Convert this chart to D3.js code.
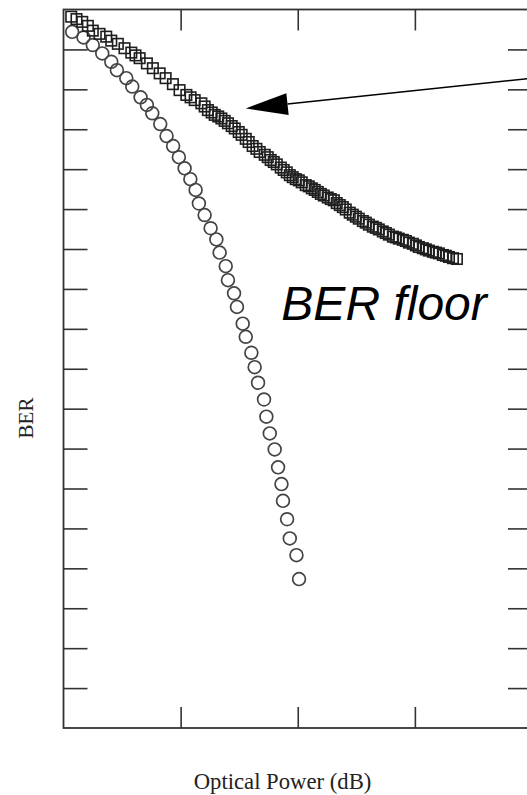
<!DOCTYPE html>
<html>
<head>
<meta charset="utf-8">
<script src="https://cdn.jsdelivr.net/npm/d3@7"></script>
<style>
  html, body { margin: 0; padding: 0; background: #fff; }
  svg { display: block; }
</style>
</head>
<body>
<svg id="chart" width="527" height="795"></svg>
<script>
// Optical power offset (dB) and log10(BER) for the two measured curves
const circleX = [0.074, 0.171, 0.250, 0.331, 0.408, 0.456, 0.536, 0.587, 0.658, 0.712,
  0.758, 0.826, 0.880, 0.936, 0.985, 1.034, 1.083, 1.128, 1.156, 1.205,
  1.256, 1.305, 1.333, 1.385, 1.404, 1.456, 1.481, 1.530, 1.556, 1.604,
  1.632, 1.661, 1.712, 1.732, 1.761, 1.803, 1.832, 1.861, 1.874, 1.909,
  1.932, 1.989, 2.011];
const circleY = [-1.56, -1.70, -1.89, -2.10, -2.31, -2.52, -2.72, -2.93, -3.20, -3.39,
  -3.60, -3.87, -4.17, -4.42, -4.70, -4.98, -5.25, -5.52, -5.86, -6.15,
  -6.48, -6.76, -7.09, -7.43, -7.78, -8.11, -8.45, -8.87, -9.20, -9.60,
  -9.96, -10.35, -10.77, -11.20, -11.62, -12.02, -12.47, -12.89, -13.31, -13.77,
  -14.25, -14.67, -15.27];

const squareX = [0.066, 0.111, 0.160, 0.208, 0.250, 0.308, 0.365, 0.408, 0.464, 0.521,
  0.579, 0.615, 0.650, 0.712, 0.763, 0.821, 0.872, 0.934, 0.991, 1.049,
  1.085, 1.120, 1.177, 1.205, 1.233, 1.265, 1.291, 1.321, 1.348, 1.376,
  1.404, 1.436, 1.462, 1.496, 1.521, 1.556, 1.581, 1.615, 1.647, 1.675,
  1.718, 1.744, 1.769, 1.795, 1.821, 1.855, 1.880, 1.906, 1.932, 1.957,
  1.983, 2.009, 2.034, 2.068, 2.094, 2.120, 2.145, 2.171, 2.197, 2.222,
  2.256, 2.282, 2.308, 2.333, 2.359, 2.385, 2.410, 2.444, 2.470, 2.496,
  2.521, 2.556, 2.581, 2.607, 2.641, 2.667, 2.692, 2.726, 2.752, 2.778,
  2.812, 2.838, 2.863, 2.897, 2.923, 2.949, 2.983, 3.009, 3.034, 3.068,
  3.094, 3.120, 3.154, 3.179, 3.205, 3.239, 3.265, 3.291, 3.325, 3.359];
const squareY = [-1.18, -1.24, -1.31, -1.41, -1.53, -1.61, -1.68, -1.78, -1.86, -1.97,
  -2.08, -2.15, -2.22, -2.35, -2.47, -2.60, -2.72, -2.87, -3.02, -3.14,
  -3.20, -3.27, -3.35, -3.43, -3.52, -3.58, -3.64, -3.68, -3.73, -3.79,
  -3.85, -3.92, -3.98, -4.07, -4.14, -4.24, -4.32, -4.42, -4.49, -4.57,
  -4.64, -4.70, -4.77, -4.82, -4.88, -4.96, -5.02, -5.08, -5.15, -5.20,
  -5.25, -5.28, -5.33, -5.40, -5.43, -5.48, -5.52, -5.57, -5.62, -5.66,
  -5.71, -5.75, -5.78, -5.85, -5.90, -5.95, -6.01, -6.09, -6.14, -6.19,
  -6.24, -6.30, -6.34, -6.39, -6.44, -6.47, -6.51, -6.56, -6.60, -6.64,
  -6.69, -6.71, -6.74, -6.77, -6.80, -6.84, -6.87, -6.91, -6.95, -6.98,
  -7.01, -7.04, -7.07, -7.09, -7.11, -7.15, -7.17, -7.20, -7.23, -7.25];

// Unlabelled tick positions
const xTicks = [1, 2, 3];
const yTicks = [-2, -3, -4, -5, -6, -7, -8, -9, -10, -11, -12, -13, -14, -15, -16, -17, -18];

// Annotation: arrow pointing at the floor curve, and its label
const arrowFrom = [4.07, -2.70];
const arrowTo = [1.556, -3.48];
const floorLabel = "BER floor";
const floorLabelPos = [1.86, -8.78];

const svg = d3.select("#chart");
const plotLeft = 63.5, plotRight = 532, plotTop = 9.5, plotBottom = 728;

const x = d3.scaleLinear().domain([0, 4]).range([plotLeft, plotRight]);
const y = d3.scaleLinear().domain([-1, -19]).range([plotTop, plotBottom]);

const ink = "#333";

// Series: circles (lower curve) and squares (floor curve)
svg.append("g")
  .selectAll("circle")
  .data(d3.zip(circleX, circleY))
  .join("circle")
  .attr("cx", d => x(d[0]))
  .attr("cy", d => y(d[1]))
  .attr("r", 6.4)
  .attr("fill", "none")
  .attr("stroke", "#444")
  .attr("stroke-width", 1.7);

const sq = 10.5;
svg.append("g")
  .selectAll("rect")
  .data(d3.zip(squareX, squareY))
  .join("rect")
  .attr("x", d => x(d[0]) - sq / 2)
  .attr("y", d => y(d[1]) - sq / 2)
  .attr("width", sq)
  .attr("height", sq)
  .attr("fill", "none")
  .attr("stroke", "#1e1e1e")
  .attr("stroke-width", 1.6);

// Frame
svg.append("rect")
  .attr("x", plotLeft).attr("y", plotTop)
  .attr("width", plotRight - plotLeft).attr("height", plotBottom - plotTop)
  .attr("fill", "none").attr("stroke", ink).attr("stroke-width", 1.8);

// Inward ticks on all four sides, no labels
function styleAxis(g) {
  g.select(".domain").remove();
  g.selectAll(".tick line").attr("stroke", ink).attr("stroke-width", 1.6);
  g.selectAll(".tick text").remove();
}
svg.append("g").attr("transform", `translate(0,${plotBottom})`)
  .call(d3.axisBottom(x).tickValues(xTicks).tickSizeInner(-21).tickSizeOuter(0)).call(styleAxis);
svg.append("g").attr("transform", `translate(0,${plotTop})`)
  .call(d3.axisTop(x).tickValues(xTicks).tickSizeInner(-21).tickSizeOuter(0)).call(styleAxis);
svg.append("g").attr("transform", `translate(${plotLeft},0)`)
  .call(d3.axisLeft(y).tickValues(yTicks).tickSizeInner(-24).tickSizeOuter(0)).call(styleAxis);
svg.append("g").attr("transform", `translate(${plotRight},0)`)
  .call(d3.axisRight(y).tickValues(yTicks).tickSizeInner(-24).tickSizeOuter(0)).call(styleAxis);

// Arrow annotation
const ax0 = x(arrowFrom[0]), ay0 = y(arrowFrom[1]);
const ax1 = x(arrowTo[0]), ay1 = y(arrowTo[1]);
const ang = Math.atan2(ay1 - ay0, ax1 - ax0);
const headLen = 42, headHalf = 11;
const bx = ax1 - headLen * Math.cos(ang), by = ay1 - headLen * Math.sin(ang);
svg.append("line")
  .attr("x1", ax0).attr("y1", ay0).attr("x2", bx).attr("y2", by)
  .attr("stroke", "#000").attr("stroke-width", 1.6);
svg.append("path")
  .attr("d", d3.line()([
    [ax1, ay1],
    [bx + headHalf * Math.sin(ang), by - headHalf * Math.cos(ang)],
    [bx - headHalf * Math.sin(ang), by + headHalf * Math.cos(ang)]
  ]) + "Z")
  .attr("fill", "#000");

svg.append("text")
  .attr("x", x(floorLabelPos[0])).attr("y", y(floorLabelPos[1]))
  .attr("font-family", "'Liberation Sans', Arial, sans-serif")
  .attr("font-style", "italic")
  .attr("font-size", 48)
  .attr("fill", "#000")
  .text(floorLabel);

// Axis titles
svg.append("text")
  .attr("x", 282.5).attr("y", 789)
  .attr("text-anchor", "middle")
  .attr("font-family", "'Liberation Serif', 'Times New Roman', serif")
  .attr("font-size", 22.7)
  .attr("fill", "#222")
  .text("Optical Power (dB)");

svg.append("text")
  .attr("transform", "translate(33,418) rotate(-90)")
  .attr("text-anchor", "middle")
  .attr("font-family", "'Liberation Serif', 'Times New Roman', serif")
  .attr("font-size", 21)
  .attr("fill", "#222")
  .text("BER");
</script>
</body>
</html>
